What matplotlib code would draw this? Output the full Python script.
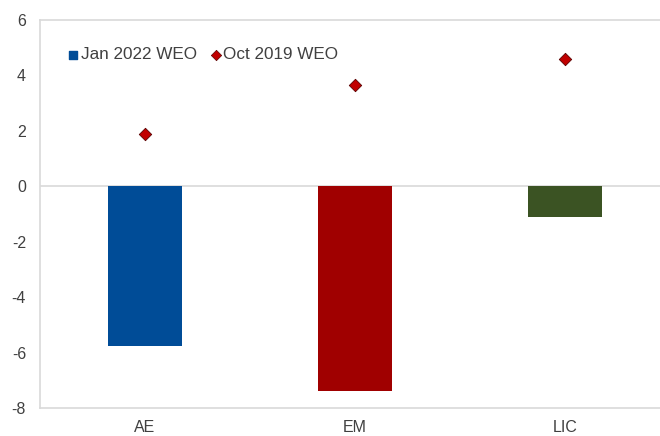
import matplotlib.pyplot as plt
import numpy as np

plt.rcParams['font.family'] = ['Liberation Sans', 'DejaVu Sans']
plt.rcParams['axes.unicode_minus'] = False

categories = ['AE', 'EM', 'LIC']
jan_2022 = [-5.75, -7.4, -1.1]
oct_2019 = [1.88, 3.65, 4.58]
bar_colors = ['#004C97', '#A00000', '#3B5323']

fig = plt.figure(figsize=(6.6, 4.36), dpi=100)
ax = fig.add_axes([40 / 660, 28 / 436, 630 / 660, 388 / 436])

x = np.arange(len(categories))
ax.bar(x, jan_2022, width=0.35, color=bar_colors, zorder=2)
ax.scatter(x, oct_2019, marker='D', s=40, color='#C00000',
           edgecolors='#5a0000', linewidths=0.6, zorder=3)
ax.axhline(0, color='#d9d9d9', linewidth=1.2, zorder=1)

ax.set_xlim(-0.5, 2.5)
ax.set_ylim(-8, 6)
ax.set_yticks(range(-8, 7, 2))
ax.set_xticks(x)
ax.set_xticklabels(categories)
ax.tick_params(axis='both', length=0, colors='#404040', labelsize=11.5)
ax.tick_params(axis='y', pad=10)
ax.tick_params(axis='x', pad=8.5)

for side in ['left', 'top', 'bottom']:
    ax.spines[side].set_color('#d9d9d9')
    ax.spines[side].set_linewidth(1.2)
ax.spines['right'].set_visible(False)

# legend proxies
h1 = ax.scatter([], [], marker='s', s=28, color='#004C97')
h2 = ax.scatter([], [], marker='D', s=28, color='#C00000', edgecolors='#5a0000', linewidths=0.5)
ax.legend([h1, h2], ['Jan 2022 WEO', 'Oct 2019 WEO'], ncol=2, frameon=False,
          loc='upper left', bbox_to_anchor=(0.017, 0.97), handletextpad=0.05,
          columnspacing=0.7, handlelength=0.8, fontsize=12.3, labelcolor='#404040')

fig.savefig('out.png', dpi=100, facecolor='white')
